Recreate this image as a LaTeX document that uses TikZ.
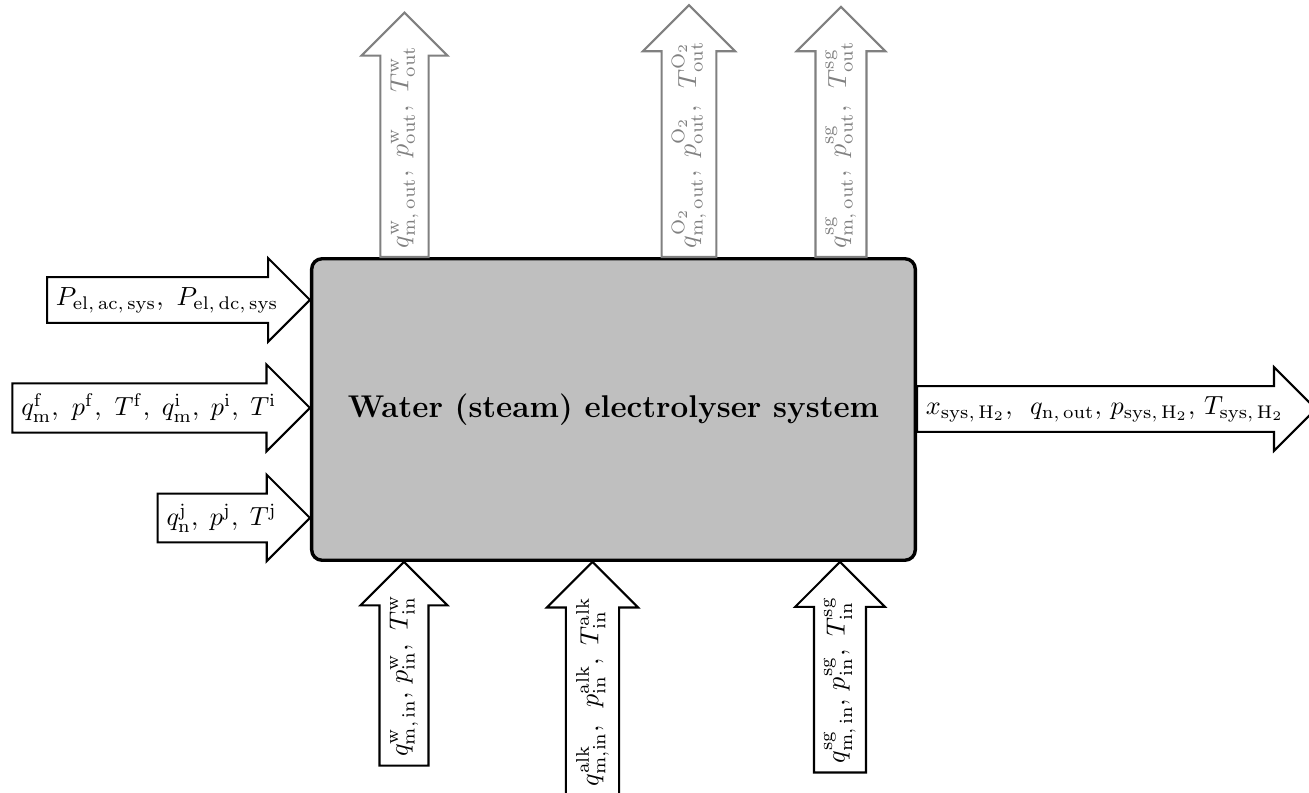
\documentclass[tikz,border=0pt]{standalone}
\usepackage{amsmath}
\usetikzlibrary{shapes.arrows,positioning}

\begin{document}
\begin{tikzpicture}[x=0.38168pt, y=-0.38168pt, line join=miter,
  flow/.style={single arrow, draw, thick, fill=white,
    single arrow head extend=7.2pt, inner xsep=3pt, inner ysep=3.5pt, outer sep=0pt},
  flowout/.style={flow, draw=black!50, text=black!50},
  sysbox/.style={draw, line width=1.3pt, rounded corners=4pt, fill=black!25,
    minimum width=230.4pt, minimum height=115.1pt}]
  \useasboundingbox (0,0) rectangle (1309,793);

  \node[sysbox] (sys) at (613.5,409.5) {\large\bfseries Water (steam) electrolyser system};

  % inputs from the left
  \node[flow, anchor=tip] (pel) at (sys.west |- 0,300)
    {$P_{\mathrm{el,\,ac,\,sys}},\ P_{\mathrm{el,\,dc,\,sys}}$};
  \node[flow, anchor=tip] (feed) at (sys.west |- 0,408)
    {$q_{\mathrm{m}}^{\mathrm{f}},\ p^{\mathrm{f}},\ T^{\mathrm{f}},\; q_{\mathrm{m}}^{\mathrm{i}},\; p^{\mathrm{i}},\; T^{\mathrm{i}}$};
  \node[flow, anchor=tip] (jin) at (sys.west |- 0,518)
    {$q_{\mathrm{n}}^{\mathrm{j}},\; p^{\mathrm{j}},\; T^{\mathrm{j}}$};

  % product
  \node[flow, anchor=tail] (hout) at (sys.east |- 0,409)
    {$x_{\mathrm{sys,\,H_2}},\ \, q_{\mathrm{n,\,out}},\, p_{\mathrm{sys,\,H_2}},\, T_{\mathrm{sys,\,H_2}}$};

  % outputs at the top
  \node[flowout, rotate=90, anchor=tail] (wout) at (404.5,0 |- sys.north)
    {$q_{\mathrm{m,\,out}}^{\mathrm{w}},\ p_{\mathrm{out}}^{\mathrm{w}},\ T_{\mathrm{out}}^{\mathrm{w}}$};
  \node[flowout, rotate=90, anchor=tail] (oout) at (689,0 |- sys.north)
    {$q_{\mathrm{m,\,out}}^{\mathrm{O_2}},\ p_{\mathrm{out}}^{\mathrm{O_2}},\ \, T_{\mathrm{out}}^{\mathrm{O_2}}$};
  \node[flowout, rotate=90, anchor=tail] (sgout) at (841,0 |- sys.north)
    {$q_{\mathrm{m,\,out}}^{\mathrm{sg}},\ p_{\mathrm{out}}^{\mathrm{sg}},\ \, T_{\mathrm{out}}^{\mathrm{sg}}$};

  % inputs at the bottom
  \node[flow, rotate=90, anchor=tip] (win) at (404,0 |- sys.south)
    {$q_{\mathrm{m,\,in}}^{\mathrm{w}},\, p_{\mathrm{in}}^{\mathrm{w}},\ T_{\mathrm{in}}^{\mathrm{w}}$};
  \node[flow, rotate=90, anchor=tip] (alkin) at (592.5,0 |- sys.south)
    {$q_{\mathrm{m,in}}^{\mathrm{alk}},\ \, p_{\mathrm{in}}^{\mathrm{alk}},\ T_{\mathrm{in}}^{\mathrm{alk}}$};
  \node[flow, rotate=90, anchor=tip] (sgin) at (840,0 |- sys.south)
    {$q_{\mathrm{m,\,in}}^{\mathrm{sg}},\, p_{\mathrm{in}}^{\mathrm{sg}},\ T_{\mathrm{in}}^{\mathrm{sg}}$};
\end{tikzpicture}
\end{document}
